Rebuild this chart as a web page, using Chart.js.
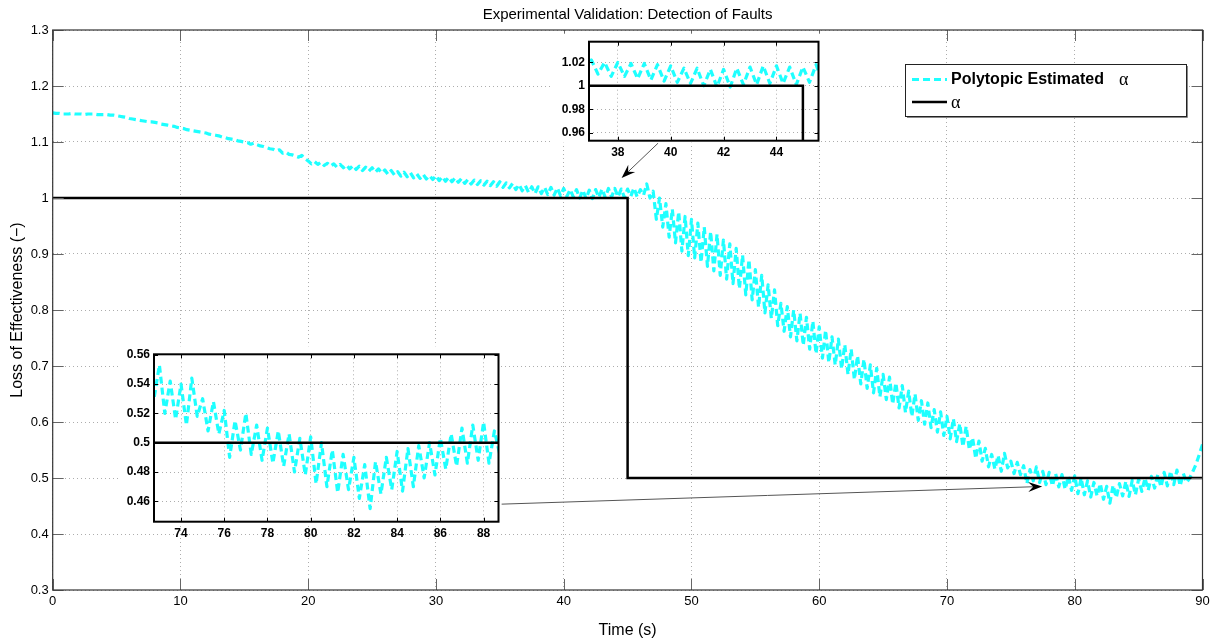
<!DOCTYPE html>
<html>
<head>
<meta charset="utf-8">
<title>Experimental Validation: Detection of Faults</title>
<script src="https://cdn.jsdelivr.net/npm/chart.js@4.4.1/dist/chart.umd.min.js"></script>
<style>
  html, body { margin: 0; padding: 0; background: #fff; }
  #wrap { position: relative; width: 1216px; height: 643px; overflow: hidden; }
  #wrap canvas { position: absolute; }
  #main { left: 0; top: 0; }
  #zoomA { left: 553px; top: 30px; }
  #zoomB { left: 118px; top: 343px; }
</style>
</head>
<body>
<div id="wrap">
  <canvas id="main" width="1216" height="643"></canvas>
  <canvas id="zoomA" width="270" height="130"></canvas>
  <canvas id="zoomB" width="385" height="198"></canvas>
</div>
<script>
// sample period of the estimate (s)
const timeStep = 0.25;

// polytopic estimate of alpha, 4 samples per second from t = 0 to 90 s
const estLoss = [
  1.152, 1.151, 1.151, 1.150,  1.150, 1.150, 1.151, 1.150,  1.150, 1.150, 1.149, 1.150,
  1.150, 1.150, 1.149, 1.149,  1.149, 1.149, 1.148, 1.148,  1.147, 1.146, 1.145, 1.144,
  1.142, 1.141, 1.140, 1.139,  1.138, 1.137, 1.136, 1.136,  1.135, 1.134, 1.132, 1.131,
  1.130, 1.129, 1.128, 1.126,  1.125, 1.124, 1.122, 1.121,  1.120, 1.119, 1.118, 1.117,
  1.116, 1.114, 1.113, 1.112,  1.111, 1.109, 1.108, 1.106,  1.105, 1.104, 1.102, 1.101,
  1.100, 1.099, 1.096, 1.098,  1.095, 1.093, 1.092, 1.090,  1.088, 1.087, 1.084, 1.086,
  1.080, 1.082, 1.078, 1.077,  1.075, 1.073, 1.076, 1.070,  1.066, 1.061, 1.065, 1.060,
  1.064, 1.058, 1.062, 1.057,  1.061, 1.055, 1.060, 1.054,  1.059, 1.052, 1.058, 1.051,
  1.057, 1.049, 1.055, 1.048,  1.054, 1.046, 1.052, 1.045,  1.050, 1.042, 1.049, 1.041,
  1.047, 1.039, 1.046, 1.038,  1.045, 1.036, 1.043, 1.035,  1.042, 1.034, 1.040, 1.033,
  1.040, 1.031, 1.038, 1.030,  1.037, 1.029, 1.036, 1.028,  1.035, 1.026, 1.033, 1.025,
  1.032, 1.024, 1.031, 1.023,  1.030, 1.022, 1.029, 1.021,  1.029, 1.019, 1.027, 1.018,
  1.026, 1.015, 1.024, 1.013,  1.022, 1.010, 1.020, 1.008,  1.020, 1.008, 1.019, 1.006,
  1.019, 1.005, 1.018, 1.004,  1.017, 1.003, 1.015, 1.002,  1.015, 1.000, 1.014, 0.999,
  1.014, 0.999, 1.015, 1.001,  1.016, 1.001, 1.017, 1.002,  1.017, 1.002, 1.016, 1.001,
  1.016, 1.003, 1.018, 1.002,  1.015, 1.005, 1.025, 1.000,  1.012, 0.962, 1.000, 0.948,
  0.990, 0.930, 0.980, 0.920,  0.975, 0.905, 0.967, 0.897,  0.962, 0.893, 0.955, 0.885,
  0.948, 0.878, 0.940, 0.870,  0.935, 0.862, 0.925, 0.855,  0.918, 0.847, 0.910, 0.838,
  0.898, 0.827, 0.890, 0.818,  0.872, 0.805, 0.862, 0.795,  0.845, 0.785, 0.836, 0.772,
  0.812, 0.762, 0.806, 0.752,  0.800, 0.745, 0.794, 0.737,  0.787, 0.730, 0.780, 0.722,
  0.770, 0.714, 0.764, 0.706,  0.752, 0.702, 0.748, 0.695,  0.738, 0.685, 0.730, 0.676,
  0.718, 0.668, 0.712, 0.660,  0.702, 0.652, 0.696, 0.645,  0.685, 0.640, 0.680, 0.632,
  0.670, 0.625, 0.665, 0.617,  0.655, 0.610, 0.650, 0.603,  0.638, 0.596, 0.634, 0.590,
  0.622, 0.582, 0.618, 0.576,  0.610, 0.570, 0.606, 0.565,  0.597, 0.556, 0.592, 0.551,
  0.572, 0.535, 0.566, 0.530,  0.553, 0.520, 0.542, 0.516,  0.540, 0.512, 0.544, 0.518,
  0.530, 0.508, 0.528, 0.506,  0.522, 0.490, 0.515, 0.495,  0.520, 0.492, 0.512, 0.488,
  0.510, 0.486, 0.508, 0.484,  0.506, 0.480, 0.503, 0.478,  0.504, 0.472, 0.500, 0.470,
  0.495, 0.466, 0.492, 0.468,  0.490, 0.462, 0.485, 0.455,  0.487, 0.465, 0.490, 0.468,
  0.494, 0.467, 0.496, 0.470,  0.498, 0.476, 0.500, 0.478,  0.503, 0.482, 0.506, 0.484,
  0.510, 0.486, 0.512, 0.488,  0.514, 0.486, 0.508, 0.492,  0.500, 0.512, 0.525, 0.542,
  0.560
];

// true loss of effectiveness (step fault at 45 s)
const stepTime = [0, 45, 45, 90];
const stepLoss = [1, 1, 0.5, 0.5];

const seriesLabels = ['Polytopic Estimated α', 'α'];

// tick values
const xTicks = [0, 10, 20, 30, 40, 50, 60, 70, 80, 90];
const yTicks = [0.3, 0.4, 0.5, 0.6, 0.7, 0.8, 0.9, 1, 1.1, 1.2, 1.3];
const zoomAXTicks = [38, 40, 42, 44];
const zoomAYTicks = [0.96, 0.98, 1, 1.02];
const zoomBXTicks = [74, 76, 78, 80, 82, 84, 86, 88];
const zoomBYTicks = [0.46, 0.48, 0.5, 0.52, 0.54, 0.56];

// zoom windows [min, max]
const zoomAXRange = [36.91, 45.59];
const zoomAYRange = [0.9532, 1.0376];
const zoomBXRange = [72.75, 88.69];
const zoomBYRange = [0.4461, 0.5603];

// arrows from the zoom boxes to the zoomed spots (data coords)
const arrowFrom = [[47.39, 1.098], [35.14, 0.4533]];
const arrowTo = [[44.53, 1.0357], [77.45, 0.4849]];

const FONT = '"Liberation Sans", Arial, Helvetica, sans-serif';
const CYAN = 'rgb(30,255,255)';
const GRID = 'rgba(0,0,0,0.32)';

Chart.defaults.font.family = FONT;
Chart.defaults.color = '#000';

const estPoints = estLoss.map((v, i) => ({ x: i * timeStep, y: v }));
const stepPoints = stepTime.map((t, i) => ({ x: t, y: stepLoss[i] }));

function makeDatasets() {
  return [
    {
      label: seriesLabels[0],
      data: estPoints,
      borderColor: CYAN,
      borderWidth: 3.2,
      borderDash: [7, 4],
      borderJoinStyle: 'round',
      borderCapStyle: 'butt',
      pointRadius: 0,
      fill: false,
      tension: 0,
      order: 1
    },
    {
      label: seriesLabels[1],
      data: stepPoints,
      borderColor: '#000',
      borderWidth: 2.5,
      borderJoinStyle: 'miter',
      pointRadius: 0,
      fill: false,
      tension: 0,
      order: 0
    }
  ];
}

function fixedTicks(values) {
  return function (scale) {
    scale.ticks = values.map(v => ({ value: v }));
  };
}

// MATLAB style box with inward tick marks
const frameTicks = {
  id: 'frameTicks',
  afterDatasetsDraw(chart, args, o) {
    const { ctx, chartArea: a, scales: { x, y } } = chart;
    ctx.save();
    ctx.strokeStyle = o.tickColor;
    ctx.lineWidth = 1;
    ctx.beginPath();
    x.ticks.forEach(t => {
      const px = Math.round(x.getPixelForValue(t.value)) + 0.5;
      ctx.moveTo(px, a.bottom); ctx.lineTo(px, a.bottom - o.len);
      ctx.moveTo(px, a.top); ctx.lineTo(px, a.top + o.len);
    });
    y.ticks.forEach(t => {
      const py = Math.round(y.getPixelForValue(t.value)) + 0.5;
      ctx.moveTo(a.left, py); ctx.lineTo(a.left + o.len, py);
      ctx.moveTo(a.right, py); ctx.lineTo(a.right - o.len, py);
    });
    ctx.stroke();
    ctx.strokeStyle = o.frameColor;
    ctx.lineWidth = o.frameWidth;
    ctx.strokeRect(a.left, a.top, a.right - a.left, a.bottom - a.top);
    ctx.restore();
  }
};

// white backing behind the zoom boxes
const whiteBack = {
  id: 'whiteBack',
  beforeDraw(chart) {
    const { ctx, chartArea: a } = chart;
    ctx.save();
    ctx.fillStyle = '#fff';
    ctx.fillRect(0, a.top - 8, a.right + 2, a.bottom - a.top + 10);
    ctx.restore();
  }
};

const arrowPlugin = {
  id: 'arrows',
  afterDatasetsDraw(chart) {
    const { ctx, scales: { x, y } } = chart;
    ctx.save();
    arrowFrom.forEach((p, i) => {
      const q = arrowTo[i];
      const x1 = x.getPixelForValue(p[0]), y1 = y.getPixelForValue(p[1]);
      const x2 = x.getPixelForValue(q[0]), y2 = y.getPixelForValue(q[1]);
      const ang = Math.atan2(y2 - y1, x2 - x1);
      const ux = Math.cos(ang), uy = Math.sin(ang);
      const L = 14, W = 5, N = 9;
      ctx.strokeStyle = '#555';
      ctx.lineWidth = 1;
      ctx.beginPath();
      ctx.moveTo(x1, y1);
      ctx.lineTo(x2 - ux * N, y2 - uy * N);
      ctx.stroke();
      ctx.fillStyle = '#000';
      ctx.beginPath();
      ctx.moveTo(x2, y2);
      ctx.lineTo(x2 - ux * L - uy * W, y2 - uy * L + ux * W);
      ctx.lineTo(x2 - ux * N, y2 - uy * N);
      ctx.lineTo(x2 - ux * L + uy * W, y2 - uy * L - ux * W);
      ctx.closePath();
      ctx.fill();
    });
    ctx.restore();
  }
};

const legendPlugin = {
  id: 'legendBox',
  afterDraw(chart, args, o) {
    const { ctx, chartArea: a } = chart;
    const left = Math.round(a.right - o.right - o.width);
    const top = Math.round(a.top + o.top);
    ctx.save();
    ctx.fillStyle = '#fff';
    ctx.fillRect(left, top, o.width, o.height);
    ctx.strokeStyle = '#888';
    ctx.lineWidth = 1;
    ctx.beginPath();
    ctx.moveTo(left + 2, top + o.height + 1.5);
    ctx.lineTo(left + o.width + 1.5, top + o.height + 1.5);
    ctx.lineTo(left + o.width + 1.5, top + 2);
    ctx.stroke();
    ctx.strokeStyle = '#222';
    ctx.strokeRect(left + 0.5, top + 0.5, o.width, o.height);
    chart.data.datasets.forEach((ds, i) => {
      const cy = top + o.rowStart + i * o.rowGap;
      ctx.setLineDash(ds.borderDash || []);
      ctx.strokeStyle = ds.borderColor;
      ctx.lineWidth = ds.borderWidth;
      ctx.beginPath();
      ctx.moveTo(left + 7, cy);
      ctx.lineTo(left + 7 + o.sample, cy);
      ctx.stroke();
      ctx.setLineDash([]);
      const words = ds.label.split(' ');
      const sym = words[words.length - 1] === 'α' ? words.pop() : '';
      let tx = left + 46;
      ctx.fillStyle = '#000';
      ctx.textBaseline = 'middle';
      ctx.textAlign = 'left';
      if (words.length) {
        const txt = words.join(' ');
        ctx.font = 'bold 16px ' + FONT;
        ctx.fillText(txt, tx, cy);
        tx += ctx.measureText(txt).width + 15;
      }
      if (sym) {
        ctx.font = '18px "Liberation Serif", "DejaVu Serif", serif';
        ctx.fillText(sym, tx, cy + 1);
      }
    });
    ctx.restore();
  }
};

// main plot
new Chart(document.getElementById('main'), {
  type: 'line',
  data: { datasets: makeDatasets() },
  plugins: [frameTicks, arrowPlugin, legendPlugin],
  options: {
    responsive: false,
    animation: false,
    events: [],
    layout: { padding: { left: 0, right: 13.5, top: 0, bottom: 0 } },
    scales: {
      x: {
        type: 'linear',
        min: 0,
        max: 90,
        afterBuildTicks: fixedTicks(xTicks),
        afterFit: s => { s.height = 53; },
        grid: { color: GRID, drawTicks: false, lineWidth: 1 },
        border: { display: false, dash: [1, 3] },
        ticks: {
          color: '#000',
          font: { size: 13 },
          padding: 4,
          maxRotation: 0,
          autoSkip: false,
          callback: v => String(v)
        },
        title: {
          display: true,
          text: 'Time (s)',
          color: '#000',
          font: { size: 16 },
          padding: { top: 0, bottom: 3 }
        }
      },
      y: {
        type: 'linear',
        min: 0.3,
        max: 1.3,
        afterBuildTicks: fixedTicks(yTicks),
        afterFit: s => { s.width = 52.7; },
        grid: { color: GRID, drawTicks: false, lineWidth: 1 },
        border: { display: false, dash: [1, 3] },
        ticks: {
          color: '#000',
          font: { size: 13 },
          padding: 4,
          autoSkip: false,
          callback: v => String(+v.toFixed(1))
        },
        title: {
          display: true,
          text: 'Loss of Effectiveness (−)',
          color: '#000',
          font: { size: 16 },
          padding: { top: 8, bottom: 0 }
        }
      }
    },
    plugins: {
      legend: { display: false },
      tooltip: { enabled: false },
      title: {
        display: true,
        fullSize: false,
        text: 'Experimental Validation: Detection of Faults',
        color: '#000',
        font: { size: 15, weight: 'normal' },
        padding: { top: 6, bottom: 6 }
      },
      frameTicks: { len: 11, tickColor: '#666', frameColor: '#333', frameWidth: 1.2 },
      legendBox: { right: 16.7, top: 34, width: 281, height: 52, sample: 35, rowStart: 15.5, rowGap: 22.5 }
    }
  }
});

function zoomChart(id, xRange, yRange, xt, yt, padTop) {
  return new Chart(document.getElementById(id), {
    type: 'line',
    data: { datasets: makeDatasets() },
    plugins: [whiteBack, frameTicks],
    options: {
      responsive: false,
      animation: false,
      events: [],
      layout: { padding: { left: 0, right: 4.5, top: padTop, bottom: 0 } },
      scales: {
        x: {
          type: 'linear',
          min: xRange[0],
          max: xRange[1],
          afterBuildTicks: fixedTicks(xt),
          afterFit: s => { s.height = 19.3; },
          grid: { color: GRID, drawTicks: false, lineWidth: 1 },
          border: { display: false, dash: [1, 3] },
          ticks: {
            color: '#000',
            font: { size: 12, weight: 'bold' },
            padding: 4.5,
            maxRotation: 0,
            autoSkip: false,
            callback: v => String(v)
          }
        },
        y: {
          type: 'linear',
          min: yRange[0],
          max: yRange[1],
          afterBuildTicks: fixedTicks(yt),
          afterFit: s => { s.width = 36; },
          grid: { color: GRID, drawTicks: false, lineWidth: 1 },
          border: { display: false, dash: [1, 3] },
          ticks: {
            color: '#000',
            font: { size: 12, weight: 'bold' },
            padding: 4,
            autoSkip: false,
            callback: v => String(+v.toFixed(2))
          }
        }
      },
      plugins: {
        legend: { display: false },
        tooltip: { enabled: false },
        title: { display: false },
        frameTicks: { len: 4, tickColor: '#000', frameColor: '#000', frameWidth: 2 }
      }
    }
  });
}

zoomChart('zoomA', zoomAXRange, zoomAYRange, zoomAXTicks, zoomAYTicks, 11.7);
zoomChart('zoomB', zoomBXRange, zoomBYRange, zoomBXTicks, zoomBYTicks, 11.3);
</script>
</body>
</html>
